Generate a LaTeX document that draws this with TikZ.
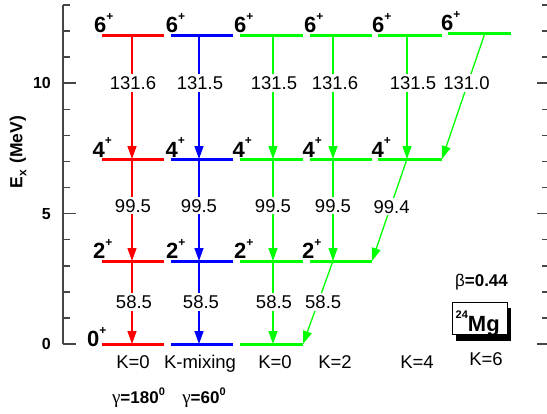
\documentclass[tikz,border=0pt]{standalone}
\usepackage{fontspec}
\setmainfont{Liberation Sans}
\newfontfamily\grfont{Liberation Serif}
\usetikzlibrary{arrows.meta}
\definecolor{cred}{RGB}{255,0,0}
\definecolor{cblue}{RGB}{0,0,255}
\definecolor{cgreen}{RGB}{0,255,0}
\definecolor{caxis}{RGB}{70,70,70}
\newcommand{\Jp}[1]{#1\raisebox{12.5pt}{\fontsize{12}{12}\selectfont +}}
\tikzset{
  lev/.style={line width=3pt},
  tr/.style={line width=1.3pt,-{Triangle[width=9pt,length=13pt]}},
  elbl/.style={fill=white,inner sep=2pt,text=black,font=\fontsize{18.5}{18.5}\selectfont},
  jlbl/.style={anchor=base west,inner sep=0pt,font=\bfseries\fontsize{22}{22}\selectfont},
  klbl/.style={anchor=base,inner sep=0pt,font=\fontsize{18.5}{18.5}\selectfont},
  axl/.style={line width=1.5pt,caxis},
  ticklbl/.style={anchor=east,inner sep=0pt,font=\bfseries\fontsize{16}{16}\selectfont}
}
\begin{document}
\begin{tikzpicture}[x=1pt,y=-1pt]
\useasboundingbox (0,0) rectangle (547,413);

% ---- axes ----
\draw[axl] (63,5) -- (63,344);
\foreach \e in {0,...,13}{
  \pgfmathsetmacro\yy{344-26.08*\e}
  \draw[axl] (63,\yy) -- (70,\yy);
  \draw[axl] (547,\yy) -- (542,\yy);
}
\foreach \e in {0,5,10}{
  \pgfmathsetmacro\yy{344-26.08*\e}
  \draw[axl] (63,\yy) -- (76,\yy);
  \draw[axl] (547,\yy) -- (537,\yy);
}
\node[ticklbl] (t10) at (51,83) {10};
\node[ticklbl] (t5) at (51,214) {5};
\node[ticklbl] (t0) at (51,344) {0};
\node[rotate=90,inner sep=0pt,font=\bfseries\fontsize{17.5}{17.5}\selectfont] (ylab) at (18,152)
  {E\kern0.5pt\raisebox{-4pt}{\fontsize{12}{12}\selectfont x}\kern1pt\ (MeV)};

% ---- coordinates ----
% column 1 (red)
\coordinate (a6l) at (102,35);  \coordinate (a6r) at (164,35);  \coordinate (a6) at (132,35);
\coordinate (a4l) at (102,159); \coordinate (a4r) at (164,159); \coordinate (a4) at (132,159);
\coordinate (a2l) at (102,261); \coordinate (a2r) at (164,261); \coordinate (a2) at (132,261);
\coordinate (a0l) at (102,344); \coordinate (a0r) at (164,344); \coordinate (a0) at (132,344);
% column 2 (blue)
\coordinate (b6l) at (171,35);  \coordinate (b6r) at (233,35);  \coordinate (b6) at (199,35);
\coordinate (b4l) at (171,159); \coordinate (b4r) at (233,159); \coordinate (b4) at (199,159);
\coordinate (b2l) at (171,261); \coordinate (b2r) at (233,261); \coordinate (b2) at (199,261);
\coordinate (b0l) at (171,344); \coordinate (b0r) at (233,344); \coordinate (b0) at (199,344);
% column 3 (green K=0)
\coordinate (c6l) at (240,35);  \coordinate (c6r) at (303,35);  \coordinate (c6) at (273,35);
\coordinate (c4l) at (240,159); \coordinate (c4r) at (303,159); \coordinate (c4) at (273,159);
\coordinate (c2l) at (240,261); \coordinate (c2r) at (303,261); \coordinate (c2) at (273,261);
\coordinate (c0l) at (240,344); \coordinate (c0r) at (303,344); \coordinate (c0) at (273,344);
% column 4 (K=2)
\coordinate (d6l) at (310,35);  \coordinate (d6r) at (372,35);  \coordinate (d6) at (333,35);
\coordinate (d4l) at (310,159); \coordinate (d4r) at (372,159); \coordinate (d4) at (333,159);
\coordinate (d2l) at (310,261); \coordinate (d2r) at (372,261); \coordinate (d2) at (333,261);
% column 5 (K=4)
\coordinate (e6l) at (378,35);  \coordinate (e6r) at (442,35);  \coordinate (e6) at (407,35);
\coordinate (e4l) at (378,159); \coordinate (e4r) at (442,159); \coordinate (e4) at (407,159);
% column 6 (K=6)
\coordinate (f6l) at (448,33);  \coordinate (f6r) at (511,33);  \coordinate (f6) at (485,33);

% ---- levels ----
\foreach \c/\col in {a/cred,b/cblue,c/cgreen}{
  \foreach \l in {6,4,2,0}{ \draw[lev,\col] (\c\l l) -- (\c\l r); }
}
\foreach \l in {6,4,2}{ \draw[lev,cgreen] (d\l l) -- (d\l r); }
\foreach \l in {6,4}{ \draw[lev,cgreen] (e\l l) -- (e\l r); }
\draw[lev,cgreen] (f6l) -- (f6r);

% ---- transitions ----
\draw[tr,cred] (a6) -- node[elbl,pos=.387,xshift=1pt]{131.6} (a4);
\draw[tr,cred] (a4) -- node[elbl,pos=.46,xshift=1pt]{99.5} (a2);
\draw[tr,cred] (a2) -- node[elbl,pos=.494,xshift=2pt]{58.5} (a0);

\draw[tr,cblue] (b6) -- node[elbl,pos=.387,xshift=1pt]{131.5} (b4);
\draw[tr,cblue] (b4) -- node[elbl,pos=.46]{99.5} (b2);
\draw[tr,cblue] (b2) -- node[elbl,pos=.494,xshift=2pt]{58.5} (b0);

\draw[tr,cgreen] (c6) -- node[elbl,pos=.387,xshift=1pt]{131.5} (c4);
\draw[tr,cgreen] (c4) -- node[elbl,pos=.46]{99.5} (c2);
\draw[tr,cgreen] (c2) -- node[elbl,pos=.494,xshift=1pt]{58.5} (c0);

\draw[tr,cgreen] (d6) -- node[elbl,pos=.387,xshift=2pt]{131.6} (d4);
\draw[tr,cgreen] (d4) -- node[elbl,pos=.46]{99.5} (d2);
\draw[tr,cgreen] (d2) -- node[elbl,pos=.494,xshift=5pt]{58.5} (c0r);

\draw[tr,cgreen] (e6) -- node[elbl,pos=.387,xshift=6pt]{131.5} (e4);
\draw[tr,cgreen] (e4) -- node[elbl,pos=.47,xshift=1pt]{99.4} (d2r);

\draw[tr,cgreen] (f6) -- node[elbl,pos=.397,xshift=-1.5pt]{131.0} (e4r);

% ---- spin labels ----
\node[jlbl] (ja6) at (94,32.5) {\Jp{6}};
\node[jlbl] (jb6) at (165.7,32.5) {\Jp{6}};
\node[jlbl] (jc6) at (234,32.5) {\Jp{6}};
\node[jlbl] (jd6) at (304,32.5) {\Jp{6}};
\node[jlbl] (je6) at (372,32.5) {\Jp{6}};
\node[jlbl] (jf6) at (441,30.5) {\Jp{6}};

\node[jlbl] (ja4) at (92.5,157) {\Jp{4}};
\node[jlbl] (jb4) at (165.5,157) {\Jp{4}};
\node[jlbl] (jc4) at (232.5,157) {\Jp{4}};
\node[jlbl] (jd4) at (302.5,157) {\Jp{4}};
\node[jlbl] (je4) at (371.5,157) {\Jp{4}};

\node[jlbl] (ja2) at (93,258.5) {\Jp{2}};
\node[jlbl] (jb2) at (166,258.5) {\Jp{2}};
\node[jlbl] (jc2) at (234,258.5) {\Jp{2}};
\node[jlbl] (jd2) at (302,258.5) {\Jp{2}};

\node[jlbl] (ja0) at (87,346.5) {\Jp{0}};

% ---- band labels ----
\node[klbl] (ka) at (133,368) {K=0};
\node[klbl] (kb) at (200,368) {K-mixing};
\node[klbl] (kc) at (275,368) {K=0};
\node[klbl] (kd) at (335,368) {K=2};
\node[klbl] (ke) at (417,368) {K=4};
\node[klbl] (kf) at (486,365) {K=6};

\node[anchor=base,inner sep=0pt,font=\bfseries\fontsize{17}{17}\selectfont] (ga) at (138.5,403)
  {{\grfont\fontsize{19}{19}\selectfont\mdseries γ}=180\raisebox{8pt}{\fontsize{11}{11}\selectfont 0}};
\node[anchor=base,inner sep=0pt,font=\bfseries\fontsize{17}{17}\selectfont] (gb) at (204,403)
  {{\grfont\fontsize{19}{19}\selectfont\mdseries γ}=60\raisebox{8pt}{\fontsize{11}{11}\selectfont 0}};

% ---- beta and nucleus ----
\node[anchor=base,inner sep=0pt,font=\bfseries\fontsize{17}{17}\selectfont] (beta) at (481.5,286)
  {{\mdseries β}=0.44};
\fill[black] (456,308) rectangle (511,341);
\draw[fill=white,line width=1pt] (452,302) rectangle (507,334);
\node[anchor=base west,inner sep=0pt,font=\bfseries] (mg) at (455.5,331)
  {\raisebox{13pt}{\fontsize{11}{11}\selectfont 24}\fontsize{22}{22}\selectfont Mg};
\end{tikzpicture}
\end{document}
